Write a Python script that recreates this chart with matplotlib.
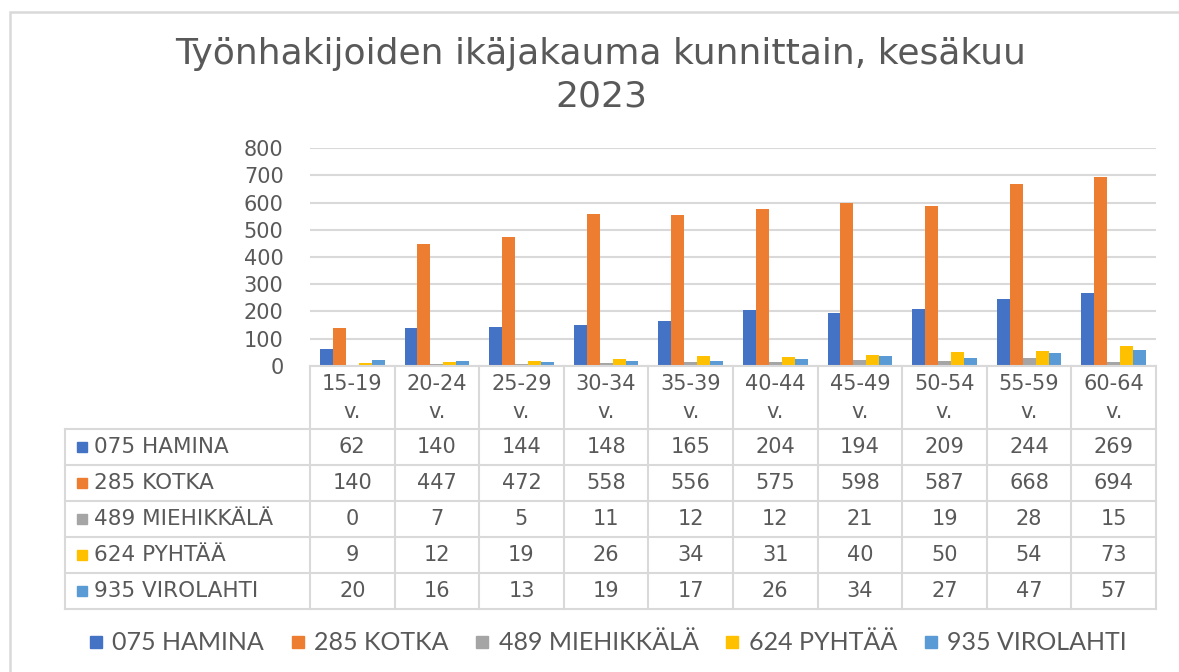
import matplotlib
matplotlib.use("Agg")
import matplotlib.pyplot as plt
import numpy as np
from matplotlib.lines import Line2D
from matplotlib.patches import Rectangle


AGE_GROUPS = ["15-19", "20-24", "25-29", "30-34", "35-39", "40-44", "45-49", "50-54", "55-59", "60-64"]
SERIES_NAMES = ["075 HAMINA", "285 KOTKA", "489 MIEHIKKÄLÄ", "624 PYHTÄÄ", "935 VIROLAHTI"]
HAMINA = [62, 140, 144, 148, 165, 204, 194, 209, 244, 269]
KOTKA = [140, 447, 472, 558, 556, 575, 598, 587, 668, 694]
MIEHIKKALA = [0, 7, 5, 11, 12, 12, 21, 19, 28, 15]
PYHTAA = [9, 12, 19, 26, 34, 31, 40, 50, 54, 73]
VIROLAHTI = [20, 16, 13, 19, 17, 26, 34, 27, 47, 57]
Y_TICKS = [0, 100, 200, 300, 400, 500, 600, 700, 800]

COLORS = ["#4472C4", "#ED7D31", "#A5A5A5", "#FFC000", "#5B9BD5"]
TEXT = "#595959"
LINE = "#d9d9d9"

W, H = 1179, 672
PLOT_L, PLOT_R = 310, 1156
CAT_PX = (PLOT_R - PLOT_L) / len(AGE_GROUPS)


def col_x(px):
    # pixel column -> category units of the shared x axis
    return -0.5 + (px - PLOT_L) / CAT_PX


series = [HAMINA, KOTKA, MIEHIKKALA, PYHTAA, VIROLAHTI]

fig = plt.figure(figsize=(W / 100, H / 100), dpi=100)

# outer chart frame (cut at the right and bottom edges)
fig.patches.append(Rectangle((10 / W, -0.1), 2, (H - 12) / H + 0.1, transform=fig.transFigure,
                             fill=False, edgecolor=LINE, linewidth=1.8))

fig.text(601 / W, 1 - 75 / H, "Työnhakijoiden ikäjakauma kunnittain, kesäkuu\n2023",
         ha="center", va="center", fontsize=26, family="DejaVu Sans", color=TEXT, linespacing=1.3)

# bars
ax = fig.add_axes([PLOT_L / W, (H - 365.7) / H, (PLOT_R - PLOT_L) / W, 217.4 / H])
x = np.arange(len(AGE_GROUPS))
bw = 0.153
for i, vals in enumerate(series):
    ax.bar(x + (i - 2) * bw, vals, width=bw, color=COLORS[i], zorder=3)

ax.set_xlim(-0.5, len(AGE_GROUPS) - 0.5)
ax.set_ylim(0, 800)
ax.set_yticks(Y_TICKS)
ax.set_xticks([])
ax.grid(axis="y", color=LINE, linewidth=1.5, zorder=0)
for s in ax.spines.values():
    s.set_visible(False)
ax.tick_params(axis="y", length=0, pad=19, labelsize=15, labelcolor=TEXT)

# data table below the bars
tax = fig.add_axes([PLOT_L / W, (H - 609) / H, (PLOT_R - PLOT_L) / W, (609 - 366) / H], sharex=ax)
tax.set_ylim(243, 0)
tax.axis("off")
header_h, row_h = 63, 36
left = col_x(65)
n = len(AGE_GROUPS)

tax.plot([-0.5, n - 0.5], [0, 0], color=LINE, lw=1.5, clip_on=False)
for r in range(len(series) + 1):
    yy = header_h + r * row_h
    tax.plot([left, n - 0.5], [yy, yy], color=LINE, lw=1.5, clip_on=False)
for k in range(n + 1):
    tax.plot([k - 0.5, k - 0.5], [0, 243], color=LINE, lw=1.5, clip_on=False)
tax.plot([left, left], [header_h, 243], color=LINE, lw=1.5, clip_on=False)

for i, label in enumerate(AGE_GROUPS):
    tax.text(i, 18, label, ha="center", va="center", fontsize=15, color=TEXT, clip_on=False)
    tax.text(i, 46, "v.", ha="center", va="center", fontsize=15, color=TEXT, clip_on=False)

for r, (name, vals) in enumerate(zip(SERIES_NAMES, series)):
    yc = header_h + r * row_h + row_h / 2
    tax.plot([col_x(82)], [yc], marker="s", markersize=7.5, color=COLORS[r], linestyle="none", clip_on=False)
    tax.text(col_x(94), yc, name, ha="left", va="center", fontsize=15.5, color=TEXT, clip_on=False)
    for i, v in enumerate(vals):
        tax.text(i, yc, str(v), ha="center", va="center", fontsize=15, color=TEXT, clip_on=False)

handles = [Line2D([], [], marker="s", linestyle="none", color=c, markersize=9) for c in COLORS]
fig.legend(handles, SERIES_NAMES, loc="center", bbox_to_anchor=(607 / W, 1 - 643 / H), ncol=5,
           frameon=False, handlelength=0.7, handletextpad=0.3, columnspacing=1.0,
           prop={"family": "Lato", "size": 18}, labelcolor=TEXT)

fig.savefig("out.png", dpi=100)
